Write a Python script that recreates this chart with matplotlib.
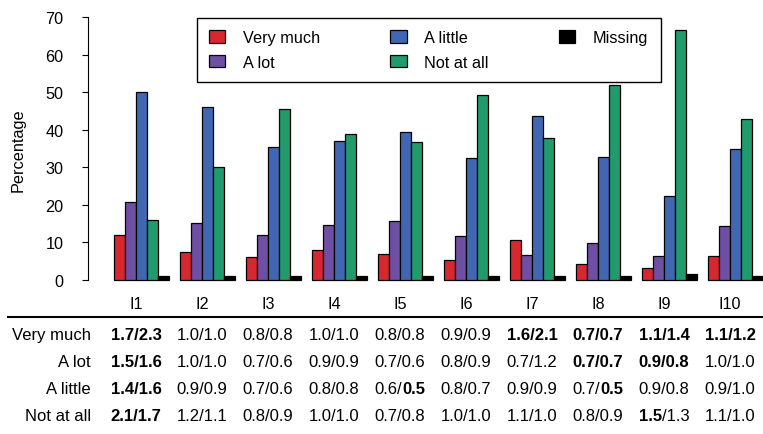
import matplotlib
matplotlib.use('Agg')
import matplotlib.pyplot as plt
from matplotlib.transforms import IdentityTransform
from matplotlib.lines import Line2D

plt.rcParams['font.family'] = ['Liberation Sans', 'DejaVu Sans']

# ---------------- data ----------------
categories = ['I1', 'I2', 'I3', 'I4', 'I5', 'I6', 'I7', 'I8', 'I9', 'I10']
series_names = ['Very much', 'A lot', 'A little', 'Not at all', 'Missing']
very_much = [12.0, 7.5, 6.2, 8.1, 6.8, 5.3, 10.6, 4.2, 3.3, 6.5]
a_lot = [20.8, 15.1, 12.0, 14.6, 15.7, 11.6, 6.6, 9.8, 6.5, 14.4]
a_little = [50.0, 46.1, 35.3, 37.1, 39.4, 32.5, 43.6, 32.7, 22.3, 35.0]
not_at_all = [16.1, 30.0, 45.4, 38.9, 36.7, 49.3, 37.9, 51.9, 66.5, 42.8]
missing = [1.1, 1.1, 1.1, 1.1, 1.1, 1.1, 1.1, 1.1, 1.5, 1.1]
yticks = [0, 10, 20, 30, 40, 50, 60, 70]

row_labels = ['Very much', 'A lot', 'A little', 'Not at all']
# '**' marks bold parts
row_very_much = ['**1.7/2.3**', '1.0/1.0', '0.8/0.8', '1.0/1.0', '0.8/0.8',
                 '0.9/0.9', '**1.6/2.1**', '**0.7/0.7**', '**1.1/1.4**', '**1.1/1.2**']
row_a_lot = ['**1.5/1.6**', '1.0/1.0', '0.7/0.6', '0.9/0.9', '0.7/0.6',
             '0.8/0.9', '0.7/1.2', '**0.7/0.7**', '**0.9/0.8**', '1.0/1.0']
row_a_little = ['**1.4/1.6**', '0.9/0.9', '0.7/0.6', '0.8/0.8', '0.6/**0.5**',
                '0.8/0.7', '0.9/0.9', '0.7/**0.5**', '0.9/0.8', '0.9/1.0']
row_not_at_all = ['**2.1/1.7**', '1.2/1.1', '0.8/0.9', '1.0/1.0', '0.7/0.8',
                  '1.0/1.0', '1.1/1.0', '0.8/0.9', '**1.5**/1.3', '1.1/1.0']

colors = ['#D7282F', '#6E4FA3', '#4267B2', '#219B6C', '#000000']

# ---------------- layout ----------------
W, H = 763, 435
FS = 11.7
TFS = 12.0


def fx(px):
    return px / W


def fy(py):
    return 1 - py / H


fig = plt.figure(figsize=(W / 100, H / 100), dpi=100)
ax = fig.add_axes([fx(88), fy(281), (W - 88) / W, (281 - 18) / H])

bw = 11.0  # bar width in px
x0 = -26 / bw
ax.set_xlim(x0, x0 + (W - 88) / bw)
ax.set_ylim(0, 70)

all_series = [very_much, a_lot, a_little, not_at_all, missing]
ngroups = len(categories)
nb = len(all_series) + 1
for k, (vals, col, name) in enumerate(zip(all_series, colors, series_names)):
    xs = [nb * g + k for g in range(ngroups)]
    ax.bar(xs, vals, width=1.0, align='edge', color=col, edgecolor='black',
           linewidth=0.9, clip_on=False, label=name)

for s in ['top', 'right', 'bottom']:
    ax.spines[s].set_visible(False)
ax.spines['left'].set_bounds(0, 70)
ax.spines['left'].set_linewidth(0.8)
ax.set_yticks(yticks)
ax.tick_params(axis='y', length=4.3, width=0.8, pad=13.5, labelsize=FS, direction='out')

label_pos = [nb * g + 2 for g in range(ngroups)]
ax.set_xticks(label_pos)
ax.set_xticklabels(categories)
ax.tick_params(axis='x', length=0, pad=11.5, labelsize=FS)

fig.text(fx(18.5), fy(150), 'Percentage', rotation=90, ha='center', va='center', fontsize=FS)

leg = ax.legend(loc='upper left', bbox_to_anchor=(fx(197), fy(19)),
                bbox_transform=fig.transFigure, ncol=3, fontsize=FS,
                frameon=True, fancybox=False, framealpha=1, edgecolor='black',
                borderaxespad=0, borderpad=0.75, handlelength=1.0, handleheight=0.8,
                handletextpad=1.1, columnspacing=4.3, labelspacing=0.58)
leg.get_frame().set_linewidth(1.0)

# table separator line
fig.add_artist(Line2D([fx(8), 1.0], [fy(317.5), fy(317.5)], color='black',
                      linewidth=1.5, transform=fig.transFigure))

renderer = fig.canvas.get_renderer()
table_rows = [row_very_much, row_a_lot, row_a_little, row_not_at_all]
row_baselines = [340, 367, 394, 421]
for lab, rowvals, yb in zip(row_labels, table_rows, row_baselines):
    fig.text(91, H - yb, lab, ha='right', va='baseline', fontsize=TFS,
             transform=IdentityTransform())
    for g, s in enumerate(rowvals):
        parts = s.split('**')
        segs = [(p, i % 2 == 1) for i, p in enumerate(parts) if p]
        cx = ax.transData.transform((label_pos[g], 0))[0]
        texts = [fig.text(0, H - yb, p, fontsize=TFS, va='baseline', ha='left',
                          fontweight='bold' if b else 'normal',
                          transform=IdentityTransform()) for p, b in segs]
        widths = [t.get_window_extent(renderer).width for t in texts]
        x = cx - sum(widths) / 2
        for t, w in zip(texts, widths):
            t.set_position((x, H - yb))
            x += w

fig.savefig('out.png', dpi=100)
